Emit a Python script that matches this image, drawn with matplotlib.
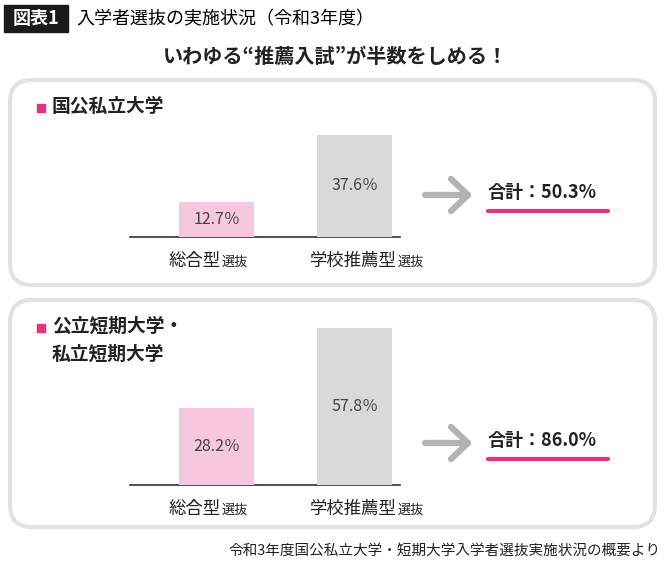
import matplotlib.pyplot as plt
from matplotlib.patches import FancyBboxPatch, Rectangle

plt.rcParams['font.family'] = ['Noto Sans CJK JP', 'DejaVu Sans']

W, H = 670, 568
PINK = '#e4347c'
BAR_PINK = '#f7c8dd'
BAR_GRAY = '#d9d9d9'

categories = ['総合型', '学校推薦型']
panel_titles = ['国公私立大学', '公立短期大学・\n私立短期大学']
panel_values = [[12.7, 37.6], [28.2, 57.8]]
panel_totals = [50.3, 86.0]

fig = plt.figure(figsize=(W / 100, H / 100), dpi=100)
ax = fig.add_axes([0, 0, 1, 1])
ax.set_xlim(0, W)
ax.set_ylim(H, 0)
ax.axis('off')

# header
ax.add_patch(Rectangle((4, 5), 64, 27, color='#1a1a1a'))
ax.text(36, 19, '図表1', color='white', fontsize=13, fontweight='bold', ha='center', va='center')
ax.text(76, 19, '入学者選抜の実施状況（令和3年度）', fontsize=13, va='center')
ax.text(335, 56, 'いわゆる“推薦入試”が半数をしめる！', fontsize=14.5, fontweight='bold',
        ha='center', va='center', color='#222222')

panels = [(80, 285, 237), (300, 527, 485)]  # top, bottom, bar baseline
px_per_pct = 2.72

for (top, bottom, base), title, vals, total in zip(panels, panel_titles, panel_values, panel_totals):
    ax.add_patch(FancyBboxPatch((10, top), 645, bottom - top,
                                boxstyle='round,pad=0,rounding_size=22',
                                fc='white', ec='#e2e2e2', lw=3))
    ax.add_patch(Rectangle((37, top + 24), 8, 8, color=PINK))
    ax.text(52, top + 17, title, fontsize=13.5, fontweight='bold', va='top',
            linespacing=1.6, color='#222222')

    # bars in their own axes
    ah = 64 * px_per_pct
    bax = fig.add_axes([130 / W, 1 - base / H, 270 / W, ah / H])
    bax.set_xlim(-0.63, 1.327)
    bax.set_ylim(0, 64)
    bax.axis('off')
    bax.patch.set_alpha(0)
    bars = bax.bar([0, 1], vals, width=0.543, color=[BAR_PINK, BAR_GRAY])
    for b, v in zip(bars, vals):
        bax.text(b.get_x() + b.get_width() / 2, v / 2, f'{v}％', ha='center', va='center',
                 fontsize=11.5, color='#444444')
    ax.plot([130, 400], [base, base], color='#333333', lw=1.2)

    # category labels
    for cx, cat in zip([221, 397], categories):
        ax.text(cx, base + 24, cat, fontsize=12.5, ha='right', va='center', color='#222222')
        ax.text(cx + 1, base + 25, '選抜', fontsize=9.5, ha='left', va='center', color='#222222')

    # arrow and total
    ay = base - 42
    ax.plot([425, 468], [ay, ay], color='#b3b3b3', lw=4.5, solid_capstyle='round')
    ax.plot([451, 468, 451], [ay - 16, ay, ay + 16], color='#b3b3b3', lw=4.5,
            solid_capstyle='round', solid_joinstyle='round')
    ax.text(488, ay - 2, f'合計：{total:.1f}%', fontsize=13, fontweight='bold',
            va='center', color='#222222')
    ax.plot([488, 608], [ay + 16, ay + 16], color=PINK, lw=3, solid_capstyle='round')

ax.text(661, 551, '令和3年度国公私立大学・短期大学入学者選抜実施状況の概要より', fontsize=10.5,
        ha='right', va='center', color='#222222')

fig.savefig('out.png', dpi=100, facecolor='white')
